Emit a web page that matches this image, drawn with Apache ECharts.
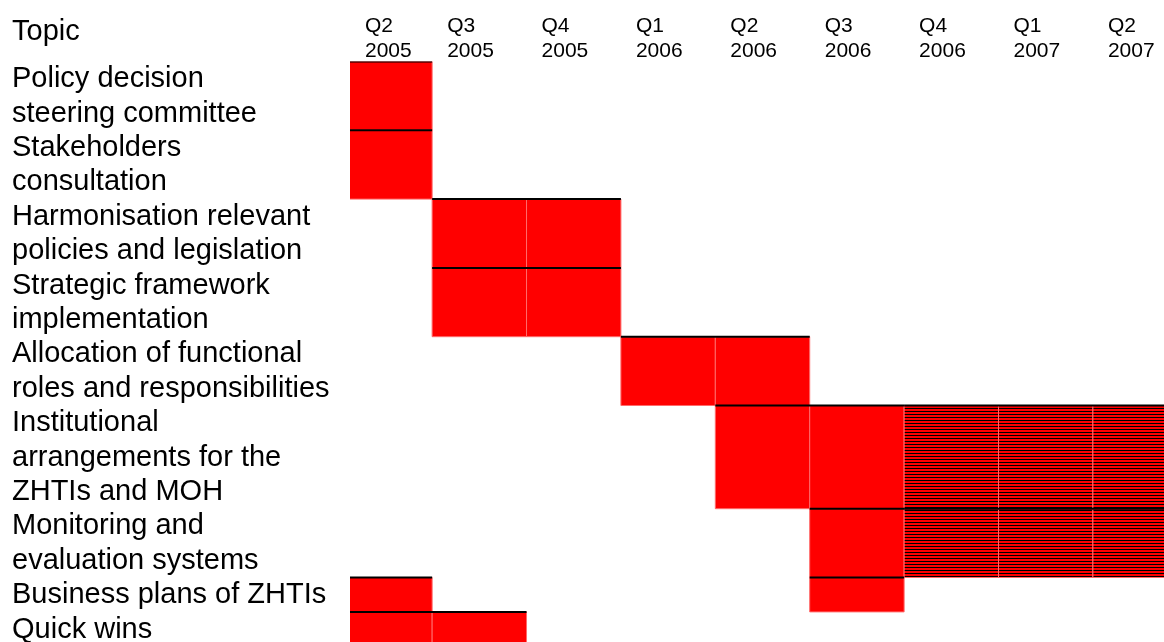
<!DOCTYPE html>
<html>
<head>
<meta charset="utf-8">
<script src="https://cdn.jsdelivr.net/npm/echarts@6/dist/echarts.min.js"></script>
<style>
  html, body { margin: 0; padding: 0; background: #fff; overflow: hidden; width: 1164px; height: 642px; }
  #chart { width: 1200px; height: 680px; }
</style>
</head>
<body>
<div id="chart"></div>
<script>
// ---- data ----
const quarters = ['Q2\n2005','Q3\n2005','Q4\n2005','Q1\n2006','Q2\n2006','Q3\n2006','Q4\n2006','Q1\n2007','Q2\n2007'];
const topics = [
  'Policy decision\nsteering committee',
  'Stakeholders\nconsultation',
  'Harmonisation relevant\npolicies and legislation',
  'Strategic framework\nimplementation',
  'Allocation of functional\nroles and responsibilities',
  'Institutional\narrangements for the\nZHTIs and MOH',
  'Monitoring and\nevaluation systems',
  'Business plans of ZHTIs',
  'Quick wins'
];
// activity segments: topic index, first quarter index, last quarter index (inclusive), kind
const segTopic = [0, 1, 2, 3, 4, 5, 5, 6, 6, 7, 7, 8];
const segFrom  = [0, 0, 1, 1, 3, 4, 6, 5, 6, 0, 5, 0];
const segTo    = [0, 0, 2, 2, 4, 5, 8, 5, 8, 0, 5, 1];
const segKind  = ['solid','solid','solid','solid','solid','solid','hatched','solid','hatched','solid','solid','solid'];

// ---- derived tables ----
const lineCount = topics.map(t => t.split('\n').length);
const lineStart = [];
let acc = 0;
lineCount.forEach(c => { lineStart.push(acc); acc += c; });
const totalLines = acc;

const cellData = [];
const topLineData = [];
segTopic.forEach((t, i) => {
  for (let q = segFrom[i]; q <= segTo[i]; q++) {
    cellData.push([q, lineStart[t], lineCount[t], segKind[i] === 'hatched' ? 1 : 0]);
  }
  topLineData.push([segFrom[i], lineStart[t], segTo[i] + 1]);
});
const headerData = quarters.map((q, i) => [i, 0]);
const topicData = topics.map((t, i) => [0, lineStart[i]]);

// hatch pattern
const pc = document.createElement('canvas');
pc.width = 4; pc.height = 3;
const pctx = pc.getContext('2d');
pctx.fillStyle = '#ff0000'; pctx.fillRect(0, 0, 4, 3);
pctx.fillStyle = '#000000'; pctx.fillRect(0, 0, 4, 1);
const hatch = { image: pc, repeat: 'repeat' };

const FONT = "'Liberation Sans', Arial, sans-serif";
const X_MIN = 0.13;

const chart = echarts.init(document.getElementById('chart'), null, { renderer: 'canvas' });
chart.setOption({
  animation: false,
  backgroundColor: '#ffffff',
  grid: { left: 350, right: 12.7, top: 61.5, bottom: 33.7 },
  xAxis: { type: 'value', min: X_MIN, max: quarters.length, show: false },
  yAxis: { type: 'value', inverse: true, min: 0, max: totalLines, show: false },
  graphic: [{
    type: 'text', left: 12, top: 17,
    style: { text: 'Topic', font: "29px " + FONT, fill: '#000' }
  }],
  series: [
    {
      type: 'custom', clip: true, silent: true,
      encode: { x: 0, y: 1 },
      data: cellData,
      renderItem: function (params, api) {
        const q = api.value(0), ls = api.value(1), lc = api.value(2), k = api.value(3);
        const p0 = api.coord([q, ls]);
        const p1 = api.coord([q + 1, ls + lc]);
        return {
          type: 'rect',
          shape: { x: p0[0], y: p0[1], width: p1[0] - p0[0], height: p1[1] - p0[1] },
          style: { fill: k ? hatch : '#ff0000', stroke: '#ff6a6a', lineWidth: 1 }
        };
      }
    },
    {
      type: 'custom', clip: true, silent: true,
      encode: { x: 0, y: 1 },
      data: topLineData,
      renderItem: function (params, api) {
        const p0 = api.coord([api.value(0), api.value(1)]);
        const p1 = api.coord([api.value(2), api.value(1)]);
        return {
          type: 'rect',
          shape: { x: p0[0], y: p0[1] - 1, width: p1[0] - p0[0], height: 2 },
          style: { fill: '#000000' }
        };
      }
    },
    {
      type: 'custom', clip: false, silent: true,
      encode: { x: 0, y: 1 },
      data: headerData,
      renderItem: function (params, api) {
        const i = api.value(0);
        const p = api.coord([Math.max(i, X_MIN), 0]);
        return {
          type: 'text',
          style: {
            x: p[0] + 15, y: 14,
            text: quarters[i],
            font: "21px " + FONT, lineHeight: 25,
            fill: '#000', verticalAlign: 'top', align: 'left'
          }
        };
      }
    },
    {
      type: 'custom', clip: false, silent: true,
      encode: { x: 0, y: 1 },
      data: topicData,
      renderItem: function (params, api) {
        const p = api.coord([X_MIN, api.value(1)]);
        return {
          type: 'text',
          style: {
            x: 12, y: p[1] + 0.5,
            text: topics[params.dataIndex],
            font: "29px " + FONT, lineHeight: 34.4,
            fill: '#000', verticalAlign: 'top', align: 'left'
          }
        };
      }
    }
  ]
});
</script>
</body>
</html>
